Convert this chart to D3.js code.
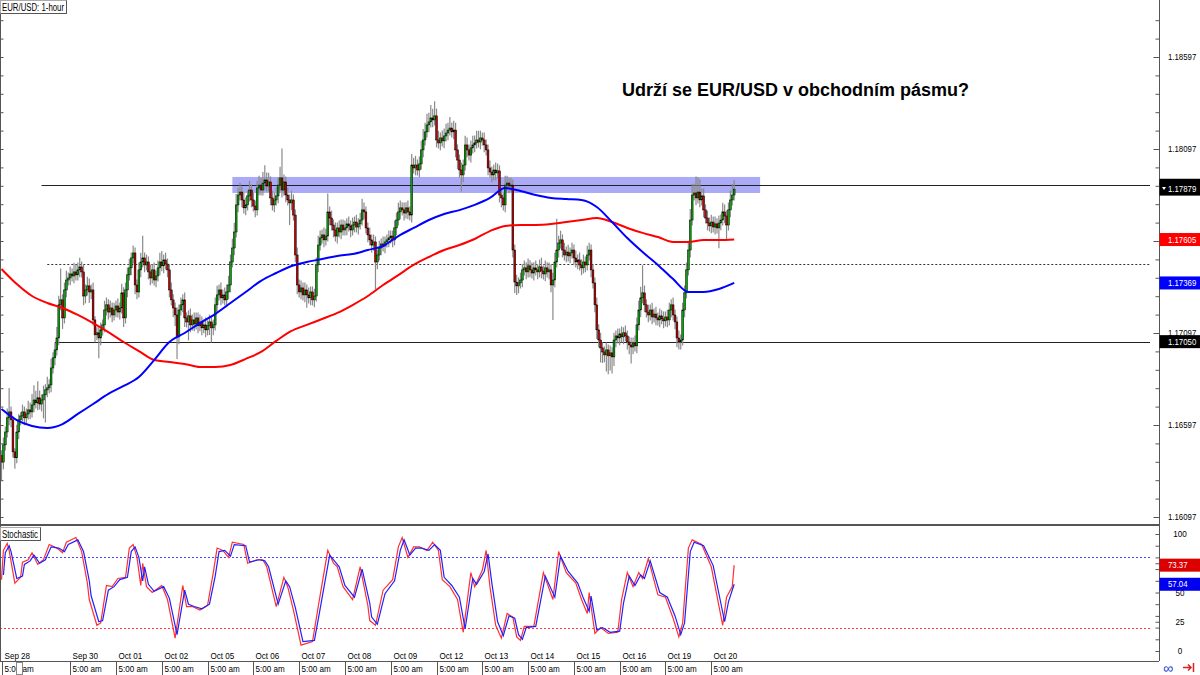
<!DOCTYPE html>
<html><head><meta charset="utf-8">
<script src="https://cdn.jsdelivr.net/npm/d3@7"></script>
<style>
body{margin:0;background:#fff}
svg{display:block}
text{font-family:"Liberation Sans",Arial,sans-serif}
</style></head>
<body><svg id="c" width="1200" height="675"></svg>
<script>
// ---------------- DATA ----------------
const title = "Udrží se EUR/USD v obchodním pásmu?";
const symbolLabel = "EUR/USD: 1-hour";
const stochLabel = "Stochastic";
const firstOpen = 1.16430;
const PIP = 0.0001;
// hourly closes, Sep 28 17:00 .. Oct 20 17:00
const closes = [
1.16396,1.16489,1.16559,1.16636,1.16668,1.16625,1.16451,1.16419,1.16559,1.16625,
1.16646,1.16668,1.16636,1.16657,1.16679,1.16668,1.16706,1.16733,1.16717,1.16745,
1.16711,1.16733,1.16761,1.16788,1.16799,1.16815,1.16907,1.16962,1.17005,1.17070,
1.17250,1.17277,1.17179,1.17331,1.17385,1.17396,1.17418,1.17407,1.17429,1.17413,
1.17440,1.17456,1.17429,1.17298,1.17331,1.17353,1.17320,1.17331,1.17168,1.17087,
1.17098,1.17070,1.17114,1.17141,1.17222,1.17250,1.17211,1.17233,1.17195,1.17222,
1.17244,1.17211,1.17233,1.17315,1.17179,1.17331,1.17413,1.17451,1.17505,1.17532,
1.17358,1.17320,1.17440,1.17483,1.17505,1.17467,1.17483,1.17429,1.17396,1.17440,
1.17385,1.17407,1.17451,1.17483,1.17462,1.17494,1.17472,1.17440,1.17331,1.17277,
1.17233,1.17195,1.17076,1.17222,1.17250,1.17277,1.17179,1.17157,1.17190,1.17141,
1.17168,1.17146,1.17179,1.17136,1.17157,1.17125,1.17141,1.17114,1.17136,1.17157,
1.17125,1.17141,1.17250,1.17304,1.17331,1.17288,1.17304,1.17277,1.17320,1.17358,
1.17483,1.17559,1.17646,1.17793,1.17847,1.17863,1.17820,1.17777,1.17793,1.17842,
1.17874,1.17820,1.17787,1.17766,1.17885,1.17901,1.17874,1.17912,1.17929,1.17896,
1.17918,1.17831,1.17793,1.17820,1.17842,1.17901,1.17940,1.17874,1.17918,1.17847,
1.17820,1.17804,1.17820,1.17738,1.17521,1.17358,1.17320,1.17342,1.17304,1.17331,
1.17304,1.17288,1.17320,1.17277,1.17298,1.17467,1.17575,1.17614,1.17630,1.17603,
1.17624,1.17755,1.17722,1.17684,1.17657,1.17624,1.17668,1.17646,1.17684,1.17657,
1.17668,1.17690,1.17679,1.17657,1.17684,1.17700,1.17673,1.17690,1.17711,1.17766,
1.17755,1.17668,1.17630,1.17603,1.17575,1.17592,1.17483,1.17521,1.17559,1.17581,
1.17570,1.17592,1.17603,1.17614,1.17624,1.17603,1.17668,1.17711,1.17755,1.17777,
1.17766,1.17749,1.17777,1.17755,1.17738,1.18010,1.17994,1.18010,1.17983,1.18016,
1.18092,1.18146,1.18190,1.18228,1.18244,1.18266,1.18255,1.18277,1.18146,1.18130,
1.18157,1.18141,1.18168,1.18184,1.18200,1.18211,1.18190,1.18200,1.18092,1.18037,
1.17983,1.17956,1.18010,1.18119,1.18092,1.18064,1.18103,1.18119,1.18130,1.18146,
1.18135,1.18157,1.18146,1.18119,1.18092,1.17994,1.17972,1.17956,1.17983,1.17967,
1.17978,1.17847,1.17831,1.17793,1.17901,1.17912,1.17896,1.17901,1.17548,1.17374,
1.17353,1.17369,1.17385,1.17440,1.17451,1.17429,1.17462,1.17440,1.17423,1.17451,
1.17440,1.17429,1.17456,1.17434,1.17418,1.17451,1.17429,1.17440,1.17358,1.17385,
1.17483,1.17548,1.17586,1.17603,1.17548,1.17521,1.17537,1.17516,1.17532,1.17548,
1.17505,1.17483,1.17494,1.17467,1.17451,1.17483,1.17467,1.17521,1.17548,1.17440,
1.17369,1.17250,1.17114,1.17059,1.17016,1.16994,1.16978,1.17005,1.16973,1.16989,
1.16967,1.17059,1.17081,1.17070,1.17092,1.17076,1.17098,1.17081,1.17048,1.17032,
1.17021,1.17043,1.17027,1.17141,1.17222,1.17288,1.17315,1.17250,1.17211,1.17195,
1.17222,1.17184,1.17200,1.17179,1.17168,1.17190,1.17174,1.17163,1.17184,1.17168,
1.17222,1.17250,1.17195,1.17157,1.17070,1.17048,1.17059,1.17222,1.17315,1.17440,
1.17548,1.17711,1.17847,1.17858,1.17831,1.17863,1.17820,1.17842,1.17766,1.17722,
1.17695,1.17679,1.17700,1.17673,1.17690,1.17668,1.17695,1.17711,1.17755,1.17733,
1.17684,1.17766,1.17820,1.17847,1.17879
];
// upper / lower shadow length in pips
const upWick = [
3,4,3,5,13,3,2,2,4,3,2,4,3,3,5,4,6,8,5,9,
4,3,5,3,6,3,5,3,4,6,5,17,3,4,5,3,4,3,5,4,
4,5,3,4,3,5,4,3,4,2,3,3,4,3,5,4,3,4,3,4,
3,4,3,5,3,4,4,5,3,4,3,3,4,5,12,3,4,3,4,3,
4,3,4,5,6,3,4,3,3,4,3,3,4,3,4,3,4,3,3,4,
3,4,3,3,4,3,3,4,3,4,3,3,4,5,3,4,3,4,4,5,
4,5,5,6,4,5,3,4,4,3,5,3,4,3,4,5,4,6,8,4,
5,3,4,4,5,4,6,16,4,3,4,3,5,3,3,4,3,4,3,4,
3,4,3,3,4,4,5,4,3,4,4,10,3,4,3,4,3,4,3,3,
4,3,4,3,4,3,4,3,4,6,4,3,3,4,3,4,3,3,4,3,
4,3,3,4,3,3,4,4,5,4,3,4,3,4,3,6,4,5,3,4,
5,6,5,6,5,7,5,8,4,5,3,4,4,5,4,6,3,5,4,3,
3,4,3,5,4,3,4,5,4,5,5,4,3,4,3,3,4,3,3,4,
4,3,4,3,5,4,3,4,3,3,4,3,4,3,4,3,4,3,4,3,
4,3,4,5,3,4,3,4,3,4,5,17,4,5,3,4,3,4,3,4,
3,4,3,4,3,4,3,5,4,3,3,3,4,3,4,3,3,4,3,4,
3,4,3,4,3,4,3,4,3,3,4,3,4,4,5,6,15,4,3,4,
3,4,3,4,3,4,3,4,3,4,4,3,4,3,3,4,3,4,4,4,
5,6,6,5,9,8,7,4,4,3,4,3,4,3,4,3,4,3,5,4,
3,4,5,6,5
];
const downWick = [
10,4,3,3,4,4,3,6,3,4,3,3,4,3,3,4,3,4,3,4,
3,4,10,15,4,3,4,3,4,3,4,3,6,3,4,3,4,3,4,3,
3,4,3,5,4,3,6,4,3,4,3,11,4,3,4,3,4,3,4,3,
4,3,4,3,5,3,4,3,4,3,5,4,3,4,3,4,3,4,4,3,
3,4,3,4,3,4,3,4,4,3,5,6,12,4,3,4,5,3,10,4,
3,4,3,4,3,4,3,4,3,5,8,4,3,4,3,4,3,3,4,4,
4,3,4,3,4,3,4,3,4,3,3,4,3,4,3,4,3,3,4,3,
3,4,3,4,3,4,3,4,3,4,3,12,4,3,4,5,3,4,3,4,
7,3,4,3,4,3,4,3,3,4,3,3,4,3,4,3,4,3,4,3,
3,4,3,4,3,4,3,4,3,3,4,3,4,3,4,3,15,4,3,4,
3,4,3,4,3,4,3,4,3,4,3,4,3,4,3,4,3,4,3,4,
3,4,3,3,4,3,4,3,4,3,4,3,4,3,4,3,3,4,4,5,
4,9,4,3,4,3,4,3,4,3,3,4,3,4,3,4,3,4,3,4,
3,4,5,3,4,3,4,3,4,6,5,4,3,4,3,4,3,4,3,4,
3,4,3,4,3,4,3,4,4,19,4,3,4,3,4,3,4,3,4,3,
4,3,4,3,4,3,4,3,3,4,3,4,5,4,8,6,4,9,10,8,
9,5,4,3,4,3,4,3,4,5,9,4,3,4,3,4,3,4,3,4,
3,4,3,4,3,4,3,4,3,4,3,4,3,4,5,4,4,3,4,3,
3,4,3,3,4,3,4,3,4,3,4,3,4,3,4,3,11,4,3,4,
8,3,4,3,3
];
// moving averages, one value every 8 bars
const maStep = 8;
const maBlue = [1.16684,1.16624,1.16592,1.16581,1.16602,1.16657,1.16711,1.16766,1.16809,1.16858,
1.16950,1.17048,1.17097,1.17151,1.17200,1.17260,1.17320,1.17380,1.17423,1.17461,
1.17483,1.17499,1.17516,1.17526,1.17548,1.17570,1.17624,1.17668,1.17711,1.17744,
1.17765,1.17793,1.17831,1.17885,1.17869,1.17847,1.17831,1.17825,1.17820,1.17782,
1.17700,1.17613,1.17537,1.17467,1.17390,1.17320,1.17320,1.17336,1.17369];
const maRed = [1.17445,1.17363,1.17298,1.17260,1.17233,1.17195,1.17151,1.17102,1.17048,1.16999,
1.16950,1.16939,1.16929,1.16912,1.16912,1.16923,1.16956,1.16994,1.17054,1.17108,
1.17141,1.17173,1.17206,1.17249,1.17298,1.17358,1.17412,1.17467,1.17510,1.17548,
1.17575,1.17608,1.17651,1.17679,1.17684,1.17684,1.17689,1.17700,1.17711,1.17722,
1.17700,1.17668,1.17641,1.17619,1.17592,1.17592,1.17602,1.17602,1.17605];
// stochastic [bar index, value]
const stochK = [[0,61],[1,86],[3,92],[4,86],[7,58],[10,63],[11,76],[14,78],[16,84],[19,74],[22,78],[25,91],[29,88],[32,84],[34,93],[39,97],[42,85],[45,58],[46,44],[50,22],[52,24],[55,56],[58,55],[61,62],[65,63],[67,88],[69,91],[71,80],[73,56],[74,75],[76,55],[79,50],[84,56],[87,44],[91,11],[95,56],[97,38],[100,38],[104,35],[108,39],[111,67],[113,88],[116,86],[119,80],[121,93],[127,91],[129,75],[134,78],[137,78],[139,72],[144,38],[148,63],[150,55],[153,35],[157,5],[163,8],[166,38],[171,86],[174,75],[176,72],[179,55],[184,44],[188,72],[192,39],[193,26],[196,22],[200,52],[205,61],[208,89],[210,97],[213,80],[216,89],[219,89],[223,86],[226,93],[229,86],[231,61],[235,55],[239,44],[242,16],[246,67],[248,55],[252,69],[254,86],[256,55],[259,22],[262,11],[265,32],[268,29],[270,12],[272,9],[274,21],[279,21],[284,67],[289,44],[292,85],[296,67],[301,58],[304,44],[307,32],[308,50],[311,15],[314,20],[318,15],[323,16],[325,44],[328,67],[331,55],[334,67],[336,62],[339,79],[344,48],[348,46],[352,28],[355,12],[357,24],[360,88],[362,95],[367,91],[372,72],[378,22],[380,46],[383,55],[384,73.37]];
const stochD = [[1,65],[2,84],[4,90],[5,85],[8,62],[11,64],[12,74],[15,77],[17,82],[20,75],[23,78],[26,89],[30,88],[33,85],[35,91],[40,95],[43,85],[46,60],[47,47],[51,25],[53,26],[56,52],[59,55],[62,61],[66,63],[68,85],[70,89],[72,80],[74,60],[75,72],[77,57],[80,51],[85,55],[88,45],[92,14],[96,52],[98,40],[101,38],[105,36],[109,40],[112,64],[114,85],[117,86],[120,81],[122,91],[128,90],[130,76],[135,78],[138,77],[140,72],[145,40],[149,60],[151,55],[154,37],[158,8],[164,9],[167,36],[172,82],[175,76],[177,72],[180,56],[185,46],[189,70],[193,41],[194,29],[197,23],[201,49],[206,60],[209,86],[211,95],[214,82],[217,88],[220,88],[224,86],[227,91],[230,86],[232,63],[236,56],[240,46],[243,19],[247,62],[249,57],[253,68],[255,83],[257,58],[260,25],[263,13],[266,30],[269,28],[271,14],[273,10],[275,20],[280,21],[285,64],[290,46],[293,81],[297,68],[302,58],[305,45],[308,34],[309,47],[312,18],[315,20],[319,16],[324,17],[326,41],[329,64],[332,56],[335,65],[337,62],[340,77],[345,50],[349,46],[353,30],[356,14],[358,24],[361,85],[363,93],[368,90],[373,73],[379,25],[381,42],[384,57.04]];
const stochLevels = [80, 20];
const stochTickLabels = [0, 25, 50, 100];
// price levels
const resistance = 1.17900, resistanceFrom = 21;
const midLevel = 1.17472, midFrom = 24;
const support = 1.17050, supportFrom = 28;
const zone = {from: 121, to: 397.6, top: 1.17945, bottom: 1.17858};
const priceMajor = [1.16097, 1.16597, 1.17097, 1.17597, 1.18097, 1.18597];
const priceLabels = [1.16097, 1.16597, 1.17097, 1.18097, 1.18597];
const priceMinorStep = 0.001;
// time axis
const dayLabels = ["Sep 28","Sep 30","Oct 01","Oct 02","Oct 05","Oct 06","Oct 07","Oct 08","Oct 09","Oct 12","Oct 13","Oct 14","Oct 15","Oct 16","Oct 19","Oct 20"];
const dayIndex  = [0,36,60,84,108,132,156,180,204,228,252,276,300,324,348,372];
const timeLabel = "5:00 am";

// ---------------- CHART ----------------
const svg = d3.select("#c");
const W = 1200, AX = 1159;
const x = d3.scaleLinear().domain([0, closes.length - 1]).range([1.5, 1.5 + (closes.length - 1) * 1.908]);
const y = d3.scaleLinear().domain([1.16097, 1.18097]).range([517, 149]);
const ys = d3.scaleLinear().domain([0, 100]).range([651, 534]);
const fmt5 = d3.format(".5f"), fmt2 = d3.format(".2f");

// squeeze text horizontally (narrow terminal font look)
function narrow(sel, f) {
  sel.each(function() {
    const L = this.getComputedTextLength();
    d3.select(this).attr("textLength", L * f).attr("lengthAdjust", "spacingAndGlyphs");
  });
}

const defs = svg.append("defs");
defs.append("clipPath").attr("id","cp").append("rect").attr("x",0).attr("y",0).attr("width",1150).attr("height",524);
defs.append("clipPath").attr("id","cs").append("rect").attr("x",0).attr("y",527).attr("width",1150).attr("height",133);

const gp = svg.append("g").attr("clip-path","url(#cp)");
// zone
gp.append("rect").attr("x", x(zone.from)).attr("width", x(zone.to) - x(zone.from))
  .attr("y", y(zone.top)).attr("height", y(zone.bottom) - y(zone.top)).attr("fill", "#aaaaf6");
// horizontal levels
function hLevel(v, from, dash) {
  const yy = Math.round(y(v)) + 0.5;
  const l = gp.append("line").attr("x1", x(from)).attr("x2", 1150).attr("y1", yy).attr("y2", yy).attr("stroke", "#222").attr("stroke-width", 1);
  if (dash) l.attr("stroke-dasharray", "2,2").attr("stroke", "#333");
}
hLevel(resistance, resistanceFrom, false);
hLevel(midLevel, midFrom, true);
hLevel(support, supportFrom, false);

// candles
const candles = closes.map((c, i) => {
  const o = i ? closes[i-1] : firstOpen;
  return {i, o, c, h: Math.max(o,c) + upWick[i]*PIP, l: Math.min(o,c) - downWick[i]*PIP};
});
gp.append("g").selectAll("line").data(candles).join("line")
  .attr("x1", d => x(d.i)).attr("x2", d => x(d.i))
  .attr("y1", d => y(d.h)).attr("y2", d => y(d.l))
  .attr("stroke", "#8a8a8a").attr("stroke-width", 1.2);
gp.append("g").selectAll("rect").data(candles).join("rect")
  .attr("x", d => x(d.i) - 0.9).attr("width", 1.8)
  .attr("y", d => y(Math.max(d.o, d.c)))
  .attr("height", d => Math.max(0.8, Math.abs(y(d.o) - y(d.c))))
  .attr("fill", d => d.c >= d.o ? "#00a800" : "#c00000")
  .attr("stroke", "#000").attr("stroke-width", 0.5);

// moving averages
const maLine = d3.line().x((d,i) => x(Math.min(i*maStep, closes.length-1))).y(d => y(d)).curve(d3.curveMonotoneX);
gp.append("path").attr("d", maLine(maRed)).attr("fill","none").attr("stroke","#ff0000").attr("stroke-width",2);
gp.append("path").attr("d", maLine(maBlue)).attr("fill","none").attr("stroke","#0000ff").attr("stroke-width",2);

// title
svg.append("text").attr("x", 622).attr("y", 96).attr("font-size", 18).attr("font-weight","bold").attr("fill","#000").text(title);

// stochastic panel
const gs = svg.append("g").attr("clip-path","url(#cs)");
gs.selectAll("line.lv").data(stochLevels).join("line").attr("class","lv")
  .attr("x1",0).attr("x2",1150).attr("y1", d => Math.round(ys(d))+0.5).attr("y2", d => Math.round(ys(d))+0.5)
  .attr("stroke", d => d > 50 ? "#4a4aff" : "#ff4040").attr("stroke-dasharray","2,2");
const sLine = d3.line().x(d => x(d[0])).y(d => ys(d[1]));
gs.append("path").attr("d", sLine(stochK)).attr("fill","none").attr("stroke","#ff3030").attr("stroke-width",1.2);
gs.append("path").attr("d", sLine(stochD)).attr("fill","none").attr("stroke","#2020ff").attr("stroke-width",1.2);

// frame lines
svg.append("line").attr("x1",0).attr("x2",AX).attr("y1",525).attr("y2",525).attr("stroke","#555").attr("stroke-width",2);
svg.append("line").attr("x1",AX+0.5).attr("x2",AX+0.5).attr("y1",0).attr("y2",661).attr("stroke","#555");
svg.append("line").attr("x1",0.5).attr("x2",0.5).attr("y1",0).attr("y2",661).attr("stroke","#555");
svg.append("line").attr("x1",0).attr("x2",AX).attr("y1",661.5).attr("y2",661.5).attr("stroke","#555");

// price axis
const minor = d3.range(0, 30).map(k => 1.16097 - 0.002 + k*priceMinorStep).filter(v => v > 1.1606 && v < 1.189);
const axMinor = d3.axisRight(y).tickValues(minor).tickSizeInner(-4).tickSizeOuter(0).tickFormat("");
svg.append("g").attr("transform",`translate(${AX+0.5},0)`).call(axMinor).call(g => g.select(".domain").remove()).selectAll("line").attr("stroke","#555");
const axMajor = d3.axisRight(y).tickValues(priceMajor).tickSizeInner(-6).tickSizeOuter(0).tickFormat("");
svg.append("g").attr("transform",`translate(${AX+0.5},0)`).call(axMajor)
  .call(g => g.select(".domain").remove())
  .call(g => g.selectAll("line").attr("stroke","#555"));
svg.append("g").selectAll("text").data(priceLabels).join("text")
  .attr("x", 1168).attr("y", d => y(d)).attr("dy","0.35em").attr("font-size", 8.5).attr("fill","#000")
  .text(d => fmt5(d)).call(s => narrow(s, 0.92));
// left ticks
const axLeft = d3.axisRight(y).tickValues(minor).tickSizeInner(3).tickSizeOuter(0).tickFormat("");
svg.append("g").attr("transform","translate(0.5,0)").call(axLeft).call(g => g.select(".domain").remove()).selectAll("line").attr("stroke","#555");

// stochastic axis
const axS = d3.axisRight(ys).tickValues(d3.range(0,101,10).concat([25,75])).tickSizeInner(-4).tickSizeOuter(0).tickFormat("");
svg.append("g").attr("transform",`translate(${AX+0.5},0)`).call(axS).call(g => g.select(".domain").remove()).selectAll("line").attr("stroke","#555");
svg.append("g").selectAll("text").data(stochTickLabels).join("text")
  .attr("x",1180).attr("y", d => ys(d)).attr("dy","0.35em").attr("text-anchor","middle")
  .attr("font-size",9).attr("fill","#000").text(d => d).call(s => narrow(s, 0.9));

// value boxes
function valBox(v, scale, label, bg) {
  const cy = scale(v);
  svg.append("rect").attr("x", AX+0.5).attr("y", cy-6.5).attr("width", W-AX).attr("height", 13).attr("fill", bg);
  svg.append("text").attr("x", 1168).attr("y", cy).attr("dy","0.35em").attr("font-size",8.5).attr("fill","#fff").text(label)
    .call(s => narrow(s, 0.92));
}
const lastClose = closes[closes.length-1];
// hidden line-label behind the current price: only its top strip shows
svg.append("rect").attr("x", AX+0.5).attr("y", y(resistance)-6.5).attr("width", W-AX).attr("height", 6).attr("fill", "#000");
valBox(lastClose, y, fmt5(lastClose), "#000");
svg.append("path").attr("d", `M1162,${y(lastClose)-2}l4,0l-2,3z`).attr("fill","#fff");
valBox(maRed[maRed.length-1], y, fmt5(maRed[maRed.length-1]), "#ff0000");
valBox(maBlue[maBlue.length-1], y, fmt5(maBlue[maBlue.length-1]), "#0000ff");
valBox(support, y, fmt5(support), "#000");
valBox(stochK[stochK.length-1][1], ys, fmt2(stochK[stochK.length-1][1]), "#dd0000");
valBox(stochD[stochD.length-1][1], ys, fmt2(stochD[stochD.length-1][1]), "#0000ee");

// time axis
const gt = svg.append("g");
dayLabels.forEach((lab, k) => {
  const tx = Math.round(x(dayIndex[k])) + 0.5;
  gt.append("text").attr("x", tx + 2).attr("y", 658.5).attr("font-size", 9.5).attr("fill","#000").text(lab).call(s => narrow(s, 0.85));
  gt.append("line").attr("x1", tx).attr("x2", tx).attr("y1", 662).attr("y2", 675).attr("stroke","#555");
  gt.append("text").attr("x", tx + 2).attr("y", 671.5).attr("font-size", 9.5).attr("fill","#000").text(timeLabel).call(s => narrow(s, 0.85));
});
svg.append("rect").attr("x",16.5).attr("y",662.5).attr("width",6).attr("height",12).attr("fill","#fff").attr("stroke","#888");

// label boxes
function tagBox(tx, ty, txt, w) {
  svg.append("rect").attr("x", tx+0.5).attr("y", ty+0.5).attr("width", w).attr("height", 13).attr("fill","#fff").attr("stroke","#aaa");
  svg.append("path").attr("d", `M${tx+0.5},${ty+13.5}h${w}v-13`).attr("fill","none").attr("stroke","#555");
  svg.append("text").attr("x", tx+2).attr("y", ty+10.5).attr("font-size", 10).attr("fill","#000").text(txt)
    .attr("textLength", w - 4).attr("lengthAdjust","spacingAndGlyphs");
}
tagBox(0, 0, symbolLabel, 66);
tagBox(0, 527, stochLabel, 40);

// bottom-right icons
svg.append("text").attr("x",1163).attr("y",673).attr("font-size",14).attr("fill","#2040d0").attr("font-family","DejaVu Sans").text("∞");
svg.append("path").attr("d","M1183,667.5h8M1188,664.5l3,3l-3,3M1193.5,663v9").attr("stroke","#e02020").attr("stroke-width",1.5).attr("fill","none");
</script>
</body></html>
